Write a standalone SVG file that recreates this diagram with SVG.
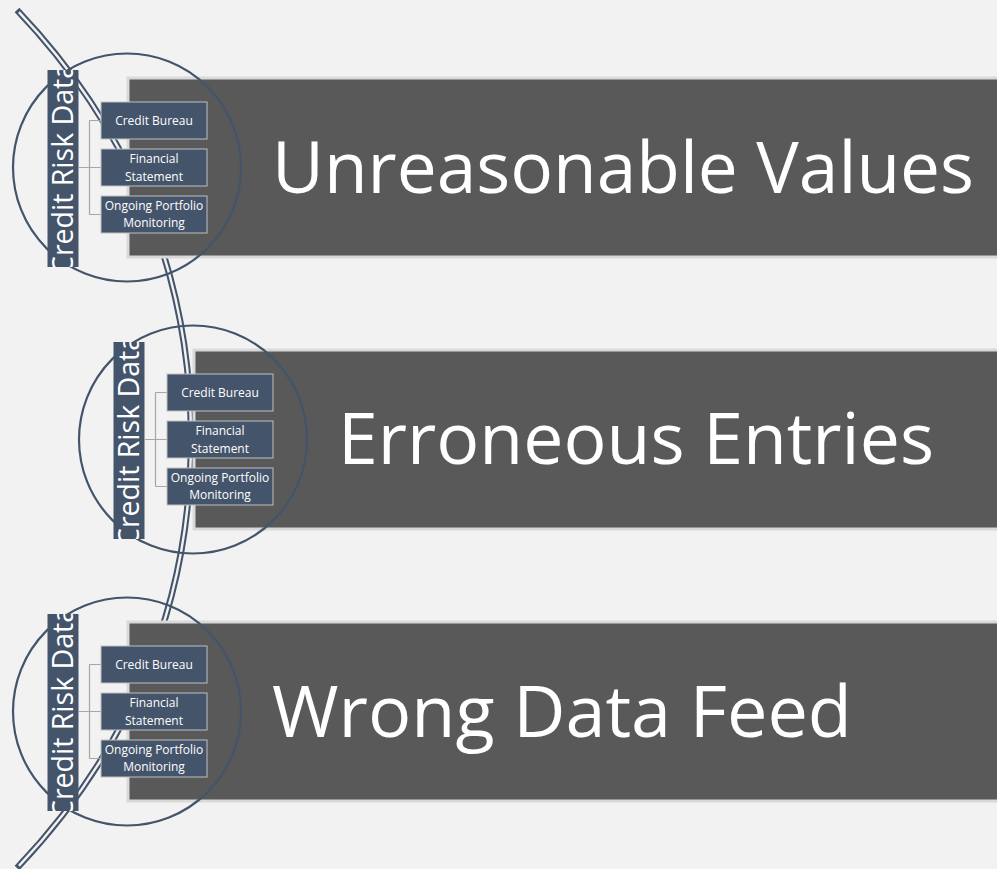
<svg xmlns="http://www.w3.org/2000/svg" width="997" height="869" viewBox="0 0 997 869">
  <defs>
    <style>
      .panel { fill: #595959; stroke: #d9d9d9; stroke-width: 3; }
      .ring { fill: none; stroke: #44546a; stroke-width: 2.2; }
      .bar { fill: #44546a; }
      .box { fill: #44546a; stroke: #c0c0c0; stroke-width: 1; }
      .link { fill: none; stroke: #a6a6a6; stroke-width: 1.2; }
      .title { font-family: "Open Sans", "Liberation Sans", sans-serif; font-size: 72px; fill: #ffffff; }
      .vlabel { font-family: "Open Sans", "Liberation Sans", sans-serif; font-size: 28.5px; fill: #ffffff; text-anchor: middle; }
      .small { font-family: "Open Sans", "Liberation Sans", sans-serif; font-size: 12px; fill: #ffffff; text-anchor: middle; }
      .spineOuter { fill: none; stroke: #44546a; stroke-width: 6.5; }
      .spineInner { fill: none; stroke: #f2f2f2; stroke-width: 2.4; }
    </style>
    <clipPath id="barClip">
      <rect x="47.5" y="70" width="31" height="197"/>
    </clipPath>
    <g id="tpl">
      <rect class="panel" x="128" y="78" width="880" height="179"/>
      <circle class="ring" cx="127" cy="167.5" r="114"/>
      <rect class="bar" x="47.5" y="70" width="31" height="197"/>
      <g clip-path="url(#barClip)">
        <text class="vlabel" transform="translate(72.5 168.5) rotate(-90)">Credit Risk Data</text>
      </g>
    </g>
    <g id="links">
      <path class="link" d="M78.5 167.5 H101 M89.5 120.5 V214.5 M89.5 120.5 H101 M89.5 214.5 H101"/>
    </g>
    <g id="boxes">
      <rect class="box" x="101" y="102" width="106" height="37"/>
      <text class="small" x="154" y="125">Credit Bureau</text>
      <rect class="box" x="101" y="149" width="106" height="37"/>
      <text class="small" x="154" y="163.3">Financial</text>
      <text class="small" x="154" y="180.5">Statement</text>
      <rect class="box" x="101" y="196" width="106" height="37"/>
      <text class="small" x="154" y="210">Ongoing Portfolio</text>
      <text class="small" x="154" y="227.2">Monitoring</text>
    </g>
  </defs>

  <rect x="0" y="0" width="997" height="869" fill="#f2f2f2"/>

  <g id="spine">
    <path class="spineOuter" d="M17 10 C120 118 191 260 191 439 C191 618 120 760 17 868"/>
    <path class="spineInner" pathLength="1000" stroke-dasharray="0 3 994 1000" d="M17 10 C120 118 191 260 191 439 C191 618 120 760 17 868"/>
  </g>

  <g id="panel-unreasonable-values">
    <use href="#tpl"/>
    <text class="title" x="272" y="193" textLength="702" lengthAdjust="spacingAndGlyphs">Unreasonable Values</text>
  </g>
  <g id="panel-erroneous-entries" transform="translate(66 272)">
    <use href="#tpl"/>
    <text class="title" x="272" y="192" textLength="596" lengthAdjust="spacingAndGlyphs">Erroneous Entries</text>
  </g>
  <g id="panel-wrong-data-feed" transform="translate(0 544)">
    <use href="#tpl"/>
    <text class="title" x="272" y="193">Wrong Data Feed</text>
  </g>

  <g id="connectors">
    <use href="#links"/>
    <use href="#links" transform="translate(66 272)"/>
    <use href="#links" transform="translate(0 544)"/>
  </g>

  <g id="sources-1">
    <use href="#boxes"/>
  </g>
  <g id="sources-2" transform="translate(66 272)">
    <use href="#boxes"/>
  </g>
  <g id="sources-3" transform="translate(0 544)">
    <use href="#boxes"/>
  </g>
</svg>
